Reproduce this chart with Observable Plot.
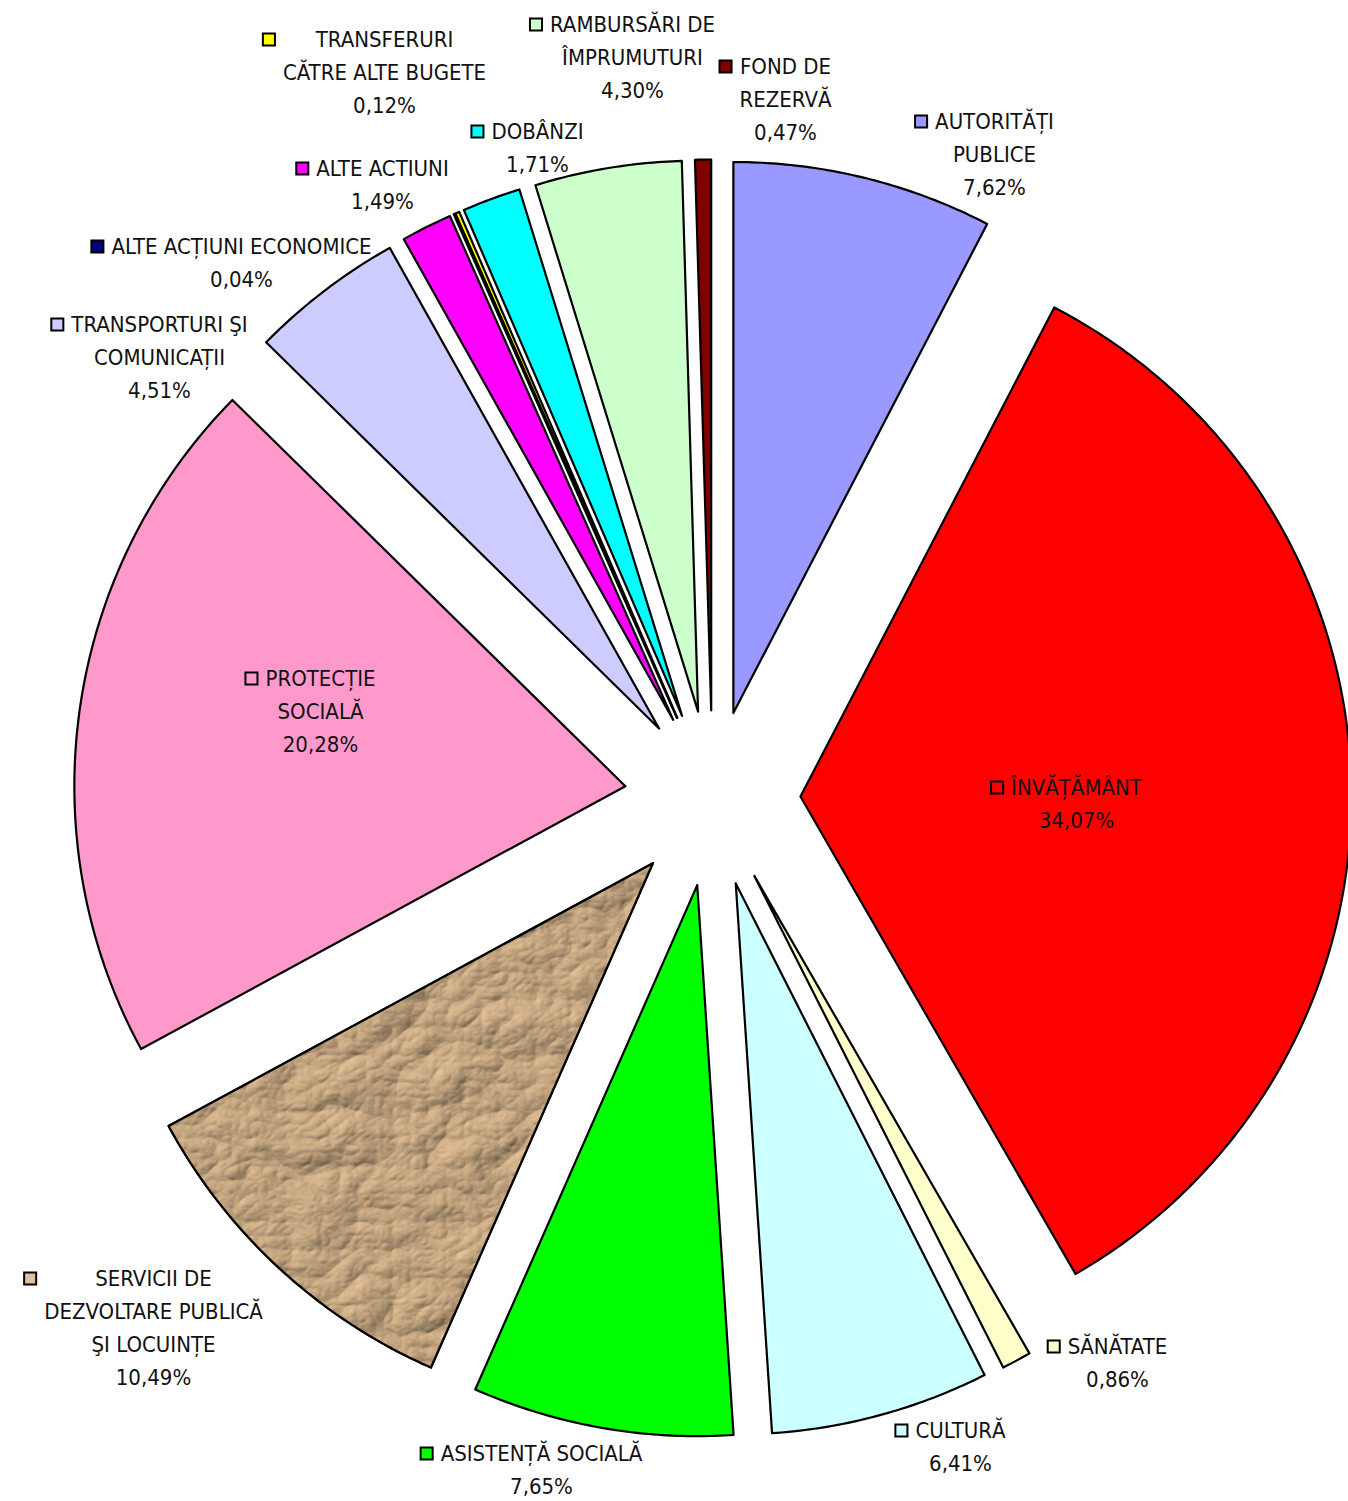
<!DOCTYPE html>
<html><head><meta charset="utf-8">
<script src="https://cdn.jsdelivr.net/npm/d3@7"></script>
<script src="https://cdn.jsdelivr.net/npm/@observablehq/plot@0.6"></script>
<style>body{margin:0;background:#fff}</style>
</head><body><div id="chart"></div>
<script>
// ---- data ----
const categories = ["AUTORITĂȚI PUBLICE", "ÎNVĂȚĂMÂNT", "SĂNĂTATE", "CULTURĂ", "ASISTENȚĂ SOCIALĂ",
  "SERVICII DE DEZVOLTARE PUBLICĂ ŞI LOCUINȚE", "PROTECȚIE SOCIALĂ", "TRANSPORTURI ŞI COMUNICAȚII",
  "ALTE ACTIUNI", "ALTE ACȚIUNI ECONOMICE", "TRANSFERURI CĂTRE ALTE BUGETE", "DOBÂNZI",
  "RAMBURSĂRI DE ÎMPRUMUTURI", "FOND DE REZERVĂ"];
const values = [7.62, 34.07, 0.86, 6.41, 7.65, 10.49, 20.28, 4.51, 1.49, 0.04, 0.12, 1.71, 4.30, 0.47];
const labelLines = ["AUTORITĂȚI\nPUBLICE", "ÎNVĂȚĂMÂNT", "SĂNĂTATE", "CULTURĂ", "ASISTENȚĂ SOCIALĂ",
  "SERVICII DE\nDEZVOLTARE PUBLICĂ\nŞI LOCUINȚE", "PROTECȚIE\nSOCIALĂ", "TRANSPORTURI ŞI\nCOMUNICAȚII",
  "ALTE ACTIUNI", "ALTE ACȚIUNI ECONOMICE", "TRANSFERURI\nCĂTRE ALTE BUGETE", "DOBÂNZI",
  "RAMBURSĂRI DE\nÎMPRUMUTURI", "FOND DE\nREZERVĂ"];

// ---- styles / layout ----
const colors = ["#9999FF", "#FF0000", "#FFFFCC", "#CCFFFF", "#00FF00", "#c4a27a", "#FF99CC", "#CCCCFF",
  "#FF00FF", "#000080", "#FFFF00", "#00FFFF", "#CCFFCC", "#800000"];
const keyColors = colors.map((c, i) => i === 5 ? "#dcc0a0" : c);
const labelX = [994, 1076, 1117, 960, 541, 153, 320, 159, 382, 241, 384, 537, 632, 785];
const labelY = [121, 787, 1346, 1430, 1453, 1278, 678, 324, 168, 246, 39, 131, 24, 66];
const W = 1348, H = 1501;
const CX = 712, CY = 798, R = 551, EXPLODE = 88;
const FONT = "'Liberation Sans Narrow','Arial Narrow','DejaVu Sans Condensed',sans-serif";
const FS = 22, LINE = 33;

const pct = v => v.toFixed(2).replace(".", ",") + "%";

// slices
const arcs = d3.pie().sort(null).value(d => d)(values);
const slicePts = [];
arcs.forEach((a, i) => {
  const mid = (a.startAngle + a.endAngle) / 2;
  const ox = CX + EXPLODE * Math.sin(mid), oy = CY - EXPLODE * Math.cos(mid);
  const n = Math.max(2, Math.ceil((a.endAngle - a.startAngle) / (Math.PI / 360)));
  slicePts.push({i, name: categories[i], color: colors[i], x: ox, y: oy});
  for (let k = 0; k <= n; k++) {
    const t = a.startAngle + (a.endAngle - a.startAngle) * k / n;
    slicePts.push({i, name: categories[i], color: colors[i], x: ox + R * Math.sin(t), y: oy - R * Math.cos(t)});
  }
  slicePts.push({i, name: categories[i], color: colors[i], x: ox, y: oy});
});
const paperPts = slicePts.filter(d => d.i === 5);

// labels
const ctx = document.createElement("canvas").getContext("2d");
ctx.font = `${FS}px ${FONT}`;
const labels = categories.map((c, i) => {
  const text = labelLines[i] + "\n" + pct(values[i]);
  const maxW = d3.max(text.split("\n"), l => ctx.measureText(l).width);
  return {name: c, text, x: labelX[i], y: labelY[i], kx: labelX[i] - maxW / 2 - 14, color: keyColors[i]};
});

const chart = Plot.plot({
  width: W, height: H,
  margin: 0,
  x: {domain: [0, W], range: [0, W], axis: null},
  y: {domain: [0, H], range: [0, H], axis: null},
  color: {type: "identity"},
  style: {fontFamily: FONT, background: "#fff"},
  marks: [
    Plot.line(slicePts, {x: "x", y: "y", z: "name", fill: "color", stroke: "#000", strokeWidth: 2.2, strokeLinejoin: "round"}),
    Plot.line(paperPts, {x: "x", y: "y", z: "name", fill: "#c4a27a", stroke: "none", ariaDescription: "crumpled"}),
    Plot.line(paperPts, {x: "x", y: "y", z: "name", fill: "none", stroke: "#000", strokeWidth: 2.2, strokeLinejoin: "round"}),
    Plot.text(labels, {x: "x", y: "y", text: "text", textAnchor: "middle", lineAnchor: "top",
      lineHeight: LINE / FS, fontSize: FS, dy: -16, fill: "#111"}),
    Plot.dot(labels, {x: "kx", y: "y", symbol: "square", r: 6.8, fill: "color", stroke: "#000", strokeWidth: 2})
  ]
});
document.getElementById("chart").appendChild(chart);

// crumpled paper texture
chart.insertAdjacentHTML("afterbegin", `<defs>
<filter id="crumple" x="0" y="0" width="1" height="1" color-interpolation-filters="sRGB">
  <feTurbulence type="turbulence" baseFrequency="0.014 0.018" numOctaves="4" seed="11" result="t"/>
  <feDiffuseLighting in="t" surfaceScale="4" lighting-color="#e8c498" result="l">
    <feDistantLight azimuth="225" elevation="55"/>
  </feDiffuseLighting>
  <feComposite in="l" in2="SourceGraphic" operator="in"/>
</filter></defs>`);
const g = chart.querySelector('[aria-description="crumpled"]');
if (g) g.setAttribute("filter", "url(#crumple)");
</script>
</body></html>
